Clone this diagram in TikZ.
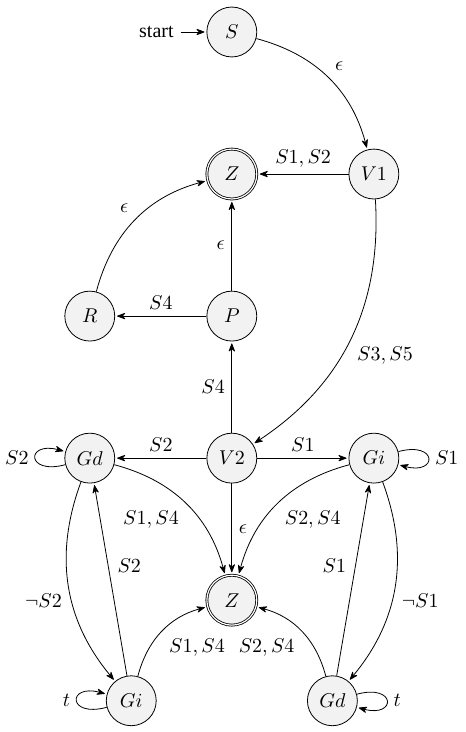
\documentclass[tikz,border=0pt]{standalone}
\usepackage{fontspec}
\newfontfamily\startfont{Liberation Serif}
\usetikzlibrary{automata,positioning,arrows.meta}
\begin{document}
\begin{tikzpicture}[>={Stealth[round]},shorten >=1pt,auto,node distance=2.5cm,on grid,
  every state/.style={fill=gray!10,draw=black,minimum size=25pt,inner sep=0pt},
  initial text={\startfont start}]
\useasboundingbox (-4.08,0.563) rectangle (4.12,-12.32);
\node[state,initial] (S) {$S$};
\node[state,accepting] (Z1) [below=of S] {$Z$};
\node[state] (V1) [right=of Z1] {$V1$};
\node[state] (P) [below=of Z1] {$P$};
\node[state] (R) [left=of P] {$R$};
\node[state] (V2) [below=of P] {$V2$};
\node[state] (Gd1) [left=of V2] {$Gd$};
\node[state] (Gi1) [right=of V2] {$Gi$};
\node[state,accepting] (Z2) [below=of V2] {$Z$};
\node[state] (Gi2) [below left=1.77cm and 1.77cm of Z2] {$Gi$};
\node[state] (Gd2) [below right=1.77cm and 1.77cm of Z2] {$Gd$};
\path[->] (S) edge[bend left] node {$\epsilon$} (V1)
  (V1) edge node[swap] {$S1,S2$} (Z1)
  (V1) edge[bend left] node {$S3,S5$} (V2)
  (R) edge[bend left] node {$\epsilon$} (Z1)
  (P) edge node {$\epsilon$} (Z1)
  (P) edge node[swap] {$S4$} (R)
  (V2) edge node {$S4$} (P)
  (V2) edge node[swap] {$S2$} (Gd1)
  (V2) edge node {$S1$} (Gi1)
  (V2) edge node {$\epsilon$} (Z2)
  (Gd1) edge[bend left] node[swap] {$S1,S4$} (Z2)
  (Gi1) edge[bend right] node {$S2,S4$} (Z2)
  (Gd1) edge[bend right] node[swap] {$\neg S2$} (Gi2)
  (Gi2) edge node[swap] {$S2$} (Gd1)
  (Gi2) edge[bend left] node[swap] {$S1,S4$} (Z2)
  (Gd2) edge[bend right] node {$S2,S4$} (Z2)
  (Gi1) edge[bend left] node {$\neg S1$} (Gd2)
  (Gd2) edge node {$S1$} (Gi1)
  (Gd1) edge[loop left] node {$S2$} ()
  (Gi1) edge[loop right] node {$S1$} ()
  (Gi2) edge[loop left] node {$t$} ()
  (Gd2) edge[loop right] node {$t$} ();
\end{tikzpicture}
\end{document}
